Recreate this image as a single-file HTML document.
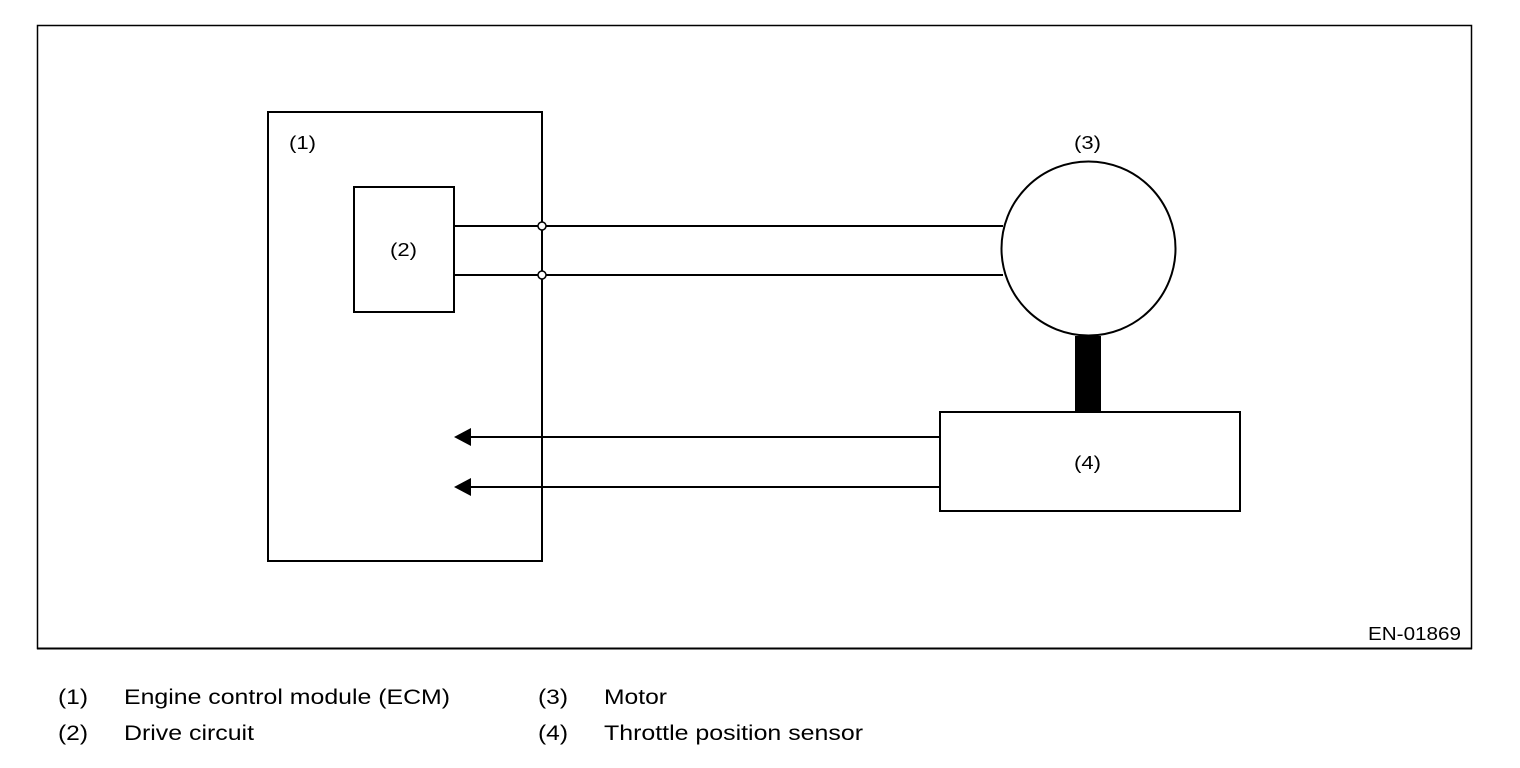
<!DOCTYPE html>
<html><head><meta charset="utf-8"><style>html,body{margin:0;padding:0;background:#fff}svg{display:block}</style></head>
<body>
<svg width="1520" height="768" viewBox="0 0 1520 768" xmlns="http://www.w3.org/2000/svg" font-family="Liberation Sans, Arial, sans-serif">
<rect x="37.5" y="25.5" width="1434" height="623" fill="none" stroke="#000" stroke-width="1.5"/>
<line x1="37" y1="648.5" x2="1472" y2="648.5" stroke="#000" stroke-width="2"/>
<rect x="268" y="112" width="274" height="449" fill="none" stroke="#000" stroke-width="2"/>
<rect x="354" y="187" width="100" height="125" fill="none" stroke="#000" stroke-width="2"/>
<line x1="454" y1="226" x2="1003" y2="226" stroke="#000" stroke-width="2"/>
<line x1="454" y1="275" x2="1003" y2="275" stroke="#000" stroke-width="2"/>
<circle cx="542" cy="226" r="4" fill="#fff" stroke="#000" stroke-width="1.5"/>
<circle cx="542" cy="275" r="4" fill="#fff" stroke="#000" stroke-width="1.5"/>
<circle cx="1088.5" cy="248.5" r="87" fill="#fff" stroke="#000" stroke-width="2"/>
<rect x="1075" y="336" width="26" height="76" fill="#000"/>
<rect x="940" y="412" width="300" height="99" fill="none" stroke="#000" stroke-width="2"/>
<line x1="468" y1="437" x2="940" y2="437" stroke="#000" stroke-width="2"/>
<line x1="468" y1="487" x2="940" y2="487" stroke="#000" stroke-width="2"/>
<polygon points="454,437 471,428 471,446" fill="#000"/>
<polygon points="454,487 471,478 471,496" fill="#000"/>
<g font-size="18" fill="#000">
<text x="289" y="149" textLength="27" lengthAdjust="spacingAndGlyphs">(1)</text>
<text x="390" y="256" textLength="27" lengthAdjust="spacingAndGlyphs">(2)</text>
<text x="1074" y="149" textLength="27" lengthAdjust="spacingAndGlyphs">(3)</text>
<text x="1074" y="469" textLength="27" lengthAdjust="spacingAndGlyphs">(4)</text>
<text x="1368" y="640" textLength="93" lengthAdjust="spacingAndGlyphs">EN-01869</text>
</g>
<g font-size="21" fill="#000">
<text x="58" y="704" textLength="30" lengthAdjust="spacingAndGlyphs">(1)</text>
<text x="124" y="704" textLength="326" lengthAdjust="spacingAndGlyphs">Engine control module (ECM)</text>
<text x="58" y="740" textLength="30" lengthAdjust="spacingAndGlyphs">(2)</text>
<text x="124" y="740" textLength="130" lengthAdjust="spacingAndGlyphs">Drive circuit</text>
<text x="538" y="704" textLength="30" lengthAdjust="spacingAndGlyphs">(3)</text>
<text x="604" y="704" textLength="63" lengthAdjust="spacingAndGlyphs">Motor</text>
<text x="538" y="740" textLength="30" lengthAdjust="spacingAndGlyphs">(4)</text>
<text x="604" y="740" textLength="259" lengthAdjust="spacingAndGlyphs">Throttle position sensor</text>
</g>
</svg>
</body></html>
